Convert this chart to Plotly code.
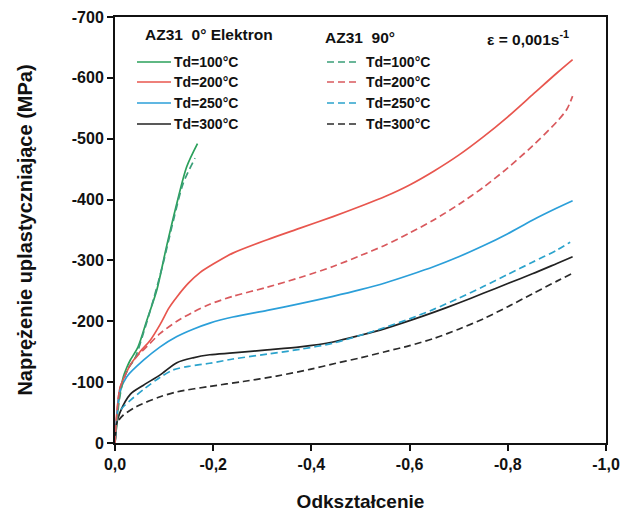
import plotly.graph_objects as go

# ---- data (strain, stress) ----
g0_x = [0, -0.004, -0.007, -0.012, -0.017, -0.024, -0.031, -0.047, -0.065, -0.085, -0.105, -0.126, -0.146, -0.168]
g0_y = [0, -35, -66, -90, -109, -124, -136, -158, -202, -251, -323, -394, -454, -492]

r0_x = [0, -0.004, -0.01, -0.02, -0.031, -0.051, -0.071, -0.092, -0.11, -0.126, -0.15, -0.173, -0.2, -0.24, -0.31, -0.377, -0.444, -0.5, -0.55, -0.6, -0.65, -0.7, -0.75, -0.8, -0.85, -0.9, -0.932]
r0_y = [0, -50, -90, -110, -128, -150, -168, -195, -222, -240, -263, -280, -294, -312, -334, -353, -372, -389, -405, -424, -447, -473, -503, -536, -572, -608, -630]

b0_x = [0, -0.004, -0.01, -0.024, -0.058, -0.092, -0.126, -0.159, -0.193, -0.24, -0.31, -0.377, -0.444, -0.5, -0.55, -0.6, -0.65, -0.7, -0.75, -0.8, -0.85, -0.9, -0.932]
b0_y = [0, -45, -85, -109, -136, -158, -175, -187, -197, -207, -218, -229, -241, -252, -263, -276, -290, -306, -324, -344, -366, -386, -398]

k0_x = [0, -0.003, -0.01, -0.031, -0.058, -0.092, -0.126, -0.159, -0.193, -0.24, -0.31, -0.377, -0.444, -0.5, -0.55, -0.6, -0.65, -0.7, -0.75, -0.8, -0.85, -0.9, -0.932]
k0_y = [0, -30, -50, -80, -95, -112, -132, -140, -145, -148, -153, -158, -166, -177, -188, -201, -215, -230, -246, -262, -278, -295, -306]

g90_x = [0, -0.004, -0.008, -0.013, -0.019, -0.028, -0.040, -0.058, -0.078, -0.098, -0.119, -0.139, -0.163]
g90_y = [0, -35, -66, -90, -108, -124, -138, -181, -235, -295, -366, -427, -468]

r90_x = [0, -0.004, -0.01, -0.02, -0.031, -0.051, -0.058, -0.092, -0.126, -0.159, -0.193, -0.24, -0.31, -0.377, -0.444, -0.5, -0.55, -0.6, -0.65, -0.7, -0.75, -0.8, -0.85, -0.9, -0.92, -0.932]
r90_y = [0, -50, -90, -110, -128, -148, -153, -180, -200, -215, -228, -241, -256, -272, -290, -308, -325, -345, -367, -392, -420, -452, -488, -528, -548, -570]

b90_x = [-0.012, -0.02, -0.031, -0.058, -0.092, -0.118, -0.15, -0.193, -0.24, -0.31, -0.377, -0.444, -0.5, -0.55, -0.6, -0.65, -0.7, -0.75, -0.8, -0.85, -0.9, -0.927]
b90_y = [-55, -62, -70, -88, -108, -120, -126, -131, -138, -146, -154, -164, -177, -190, -204, -220, -238, -257, -277, -297, -317, -330]

k90_x = [-0.008, -0.017, -0.044, -0.092, -0.126, -0.193, -0.261, -0.329, -0.397, -0.45, -0.5, -0.55, -0.6, -0.65, -0.7, -0.75, -0.8, -0.85, -0.9, -0.932]
k90_y = [-38, -46, -60, -76, -84, -93, -101, -110, -121, -131, -140, -150, -160, -172, -187, -204, -224, -245, -266, -279]

legend_labels = ["Td=100°C", "Td=200°C", "Td=250°C", "Td=300°C"]
x_tickvals = [0, -0.2, -0.4, -0.6, -0.8, -1.0]
x_ticktext = ["0,0", "-0,2", "-0,4", "-0,6", "-0,8", "-1,0"]
y_tickvals = [0, -100, -200, -300, -400, -500, -600, -700]
y_ticktext = ["0", "-100", "-200", "-300", "-400", "-500", "-600", "-700"]

solid_colors = ["#2aa05a", "#e8564e", "#2b9fd9", "#222222"]
dash_colors = ["#3a9f78", "#d9595d", "#2ba3cc", "#2b2b2b"]
DASH = "7px,4px"

fig = go.Figure()
solid = [(g0_x, g0_y), (r0_x, r0_y), (b0_x, b0_y), (k0_x, k0_y)]
dashed = [(g90_x, g90_y), (r90_x, r90_y), (b90_x, b90_y), (k90_x, k90_y)]
for (xs, ys), c, lab in zip(solid, solid_colors, legend_labels):
    fig.add_trace(go.Scatter(x=xs, y=ys, mode="lines", name="0° " + lab,
                             line=dict(color=c, width=1.7, shape="spline", smoothing=0.8),
                             showlegend=False))
for (xs, ys), c, lab in zip(dashed, dash_colors, legend_labels):
    fig.add_trace(go.Scatter(x=xs, y=ys, mode="lines", name="90° " + lab,
                             line=dict(color=c, width=1.7, dash=DASH, shape="spline", smoothing=0.8),
                             showlegend=False))

FONT = "Liberation Sans, Arial, sans-serif"
OFF = 8  # page body margin
W, H = 632 - OFF, 512 - OFF
ML, MT = 115 - OFF, 17 - OFF
PW, PH = 491, 426
MR, MB = W - ML - PW, H - MT - PH

def px(x):
    return (x - OFF - ML) / PW

def py(y):
    return 1 - (y - OFF - MT) / PH

annotations = []
shapes = []
annotations.append(dict(x=px(143), y=py(35), xref="paper", yref="paper", text="<b>AZ31  0° Elektron</b>",
                        showarrow=False, xanchor="left", yanchor="middle",
                        font=dict(family=FONT, size=15.5, color="#111")))
annotations.append(dict(x=px(323), y=py(37), xref="paper", yref="paper", text="<b>AZ31  90°</b>",
                        showarrow=False, xanchor="left", yanchor="middle",
                        font=dict(family=FONT, size=15.5, color="#111")))
annotations.append(dict(x=px(485), y=py(38), xref="paper", yref="paper",
                        text="<b>ε = 0,001s<sup>-1</sup></b>",
                        showarrow=False, xanchor="left", yanchor="middle",
                        font=dict(family=FONT, size=15.5, color="#111")))
rows = [62, 82, 103, 124]
for i, lab in enumerate(legend_labels):
    yy = py(rows[i])
    shapes.append(dict(type="line", xref="paper", yref="paper", x0=px(137), x1=px(171), y0=yy, y1=yy,
                       line=dict(color=solid_colors[i], width=1.7)))
    annotations.append(dict(x=px(172), y=yy, xref="paper", yref="paper", text="<b>%s</b>" % lab, showarrow=False,
                            xanchor="left", yanchor="middle", font=dict(family=FONT, size=14, color="#111")))
    shapes.append(dict(type="line", xref="paper", yref="paper", x0=px(327), x1=px(358), y0=yy, y1=yy,
                       line=dict(color=dash_colors[i], width=1.7, dash=DASH)))
    annotations.append(dict(x=px(364), y=yy, xref="paper", yref="paper", text="<b>%s</b>" % lab, showarrow=False,
                            xanchor="left", yanchor="middle", font=dict(family=FONT, size=14, color="#111")))

fig.update_layout(
    width=W, height=H,
    margin=dict(l=ML, r=MR, t=MT, b=MB, autoexpand=False),
    paper_bgcolor="white", plot_bgcolor="white",
    font=dict(family=FONT, color="#111"),
    annotations=annotations, shapes=shapes,
    showlegend=False,
)
fig.update_xaxes(range=[0, -1.0], tickvals=x_tickvals, ticktext=["<b>%s</b>" % t for t in x_ticktext],
                 automargin=False,
                 showgrid=False, zeroline=False, showline=True, linecolor="#111", linewidth=2,
                 mirror=True, ticks="outside", ticklen=6, tickwidth=2, tickcolor="#111",
                 tickfont=dict(family=FONT, size=16, color="#111"),
                 title=dict(text="<b>Odkształcenie</b>", font=dict(family=FONT, size=19, color="#111"), standoff=22))
fig.update_yaxes(range=[0, -700], tickvals=y_tickvals, ticktext=["<b>%s</b>" % t for t in y_ticktext],
                 automargin=False,
                 showgrid=False, zeroline=False, showline=True, linecolor="#111", linewidth=2,
                 mirror=True, ticks="outside", ticklen=6, tickwidth=2, tickcolor="#111",
                 tickfont=dict(family=FONT, size=16, color="#111"),
                 title=dict(text="<b>Naprężenie uplastyczniające (MPa)</b>", font=dict(family=FONT, size=20, color="#111"), standoff=34))

fig.write_html("out.html")
